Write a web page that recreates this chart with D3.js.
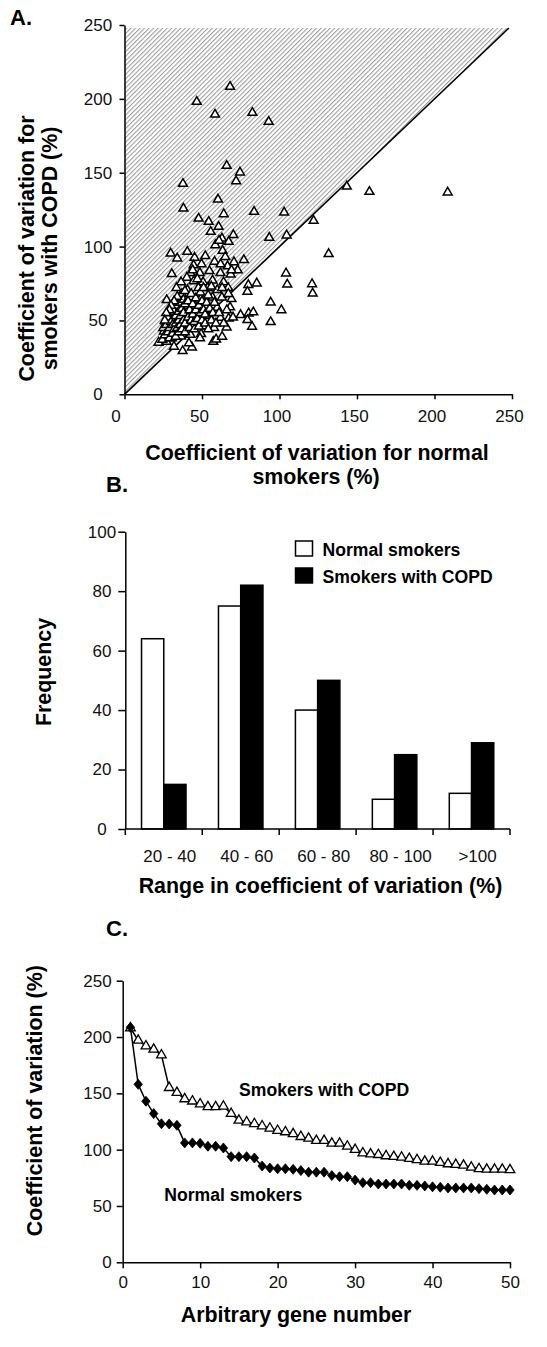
<!DOCTYPE html>
<html><head><meta charset="utf-8">
<script src="https://cdn.jsdelivr.net/npm/d3@7"></script>
<style>
html,body{margin:0;padding:0;background:#fff;}
svg{display:block;font-family:"Liberation Sans",Arial,Helvetica,sans-serif;}
.tick text{font-size:17px;fill:#111;}
.axis path,.axis line{stroke:#000;stroke-width:1.5px;}
.title{font-weight:bold;font-size:21.4px;fill:#000;}
.plabel{font-weight:bold;font-size:22px;fill:#000;}
.leg{font-weight:bold;font-size:17.6px;fill:#000;}
</style></head>
<body>
<script>
// ---------- Panel A: scatter (CV normal smokers vs CV smokers with COPD) ----------
const scatterNormalCV = [
68.1,46.6,58.4,82.5,93,65.9,74.5,72,37.7,143.4,158,208.5,60.3,38,83.6,103,64,122,47.8,54.3,
60.7,55.6,70.2,93.4,104.6,62.9,67.2,58.6,63.3,40.5,29.8,34,131.7,45.2,52.1,58.1,77,70.6,104.2,105,
121,121.4,85.3,79.9,79.3,94.3,101.2,74.9,80.1,83.1,79.3,82.3,94.3,30.5,22,37.5,43.5,57.3,59.1,49.4,
48.7,65.9,67.2,68.1,69,27.2,31.9,27.2,
66.5,49.7,44.6,42.6,48.6,54.8,61.9,68.5,73,
40.2,36.5,44.6,50.7,56.8,63.9,33.5,40.6,47.7,53.7,59.8,66.9,35.5,42.6,49.7,56.8,62.8,
31.5,38.5,45.6,52.7,59.8,26.4,32.5,39.5,46.6,54.8,61.9,25.4,31.5,37.5,43.6,50.7,57.8,42.6,
24.4,30.5,36.5,41.6,
25,26,27,28,28,29,29,30,30,31,31,32,32,33,33,33,34,34,35,35,
35,36,36,36,37,37,37,38,38,38,39,39,39,39,34,32,30,29,27,26,
41,41,42,42,43,43,44,44,45,45,46,46,47,47,48,48,49,49,50,50,
51,51,52,52,53,54,54,55,56,56,57,58,59,44,
63,61,64,66,70,63,67,62,65,69,61
];
const scatterCopdCV = [
208.2,198,189.4,190.6,184.5,154.7,150.2,144.3,142.5,140.7,137.1,136.7,131.9,125.8,123.6,123.1,122,117.5,119,116.8,
113.4,110,107.8,106,107.6,105.5,103.3,101,97.2,96.5,95.4,92,95,92.5,93.6,89.8,90.9,89.5,81.9,74.4,
74.6,68.3,75.1,74,69.5,62.2,57,53.7,54.8,55.5,50.3,45.8,48.9,81.4,35,29.3,31.8,35.6,37.2,40.8,
37.9,45.3,51.4,58.9,64.5,63.8,32.3,35.6,
86.7,88.1,87.4,82.1,82.1,83.5,82.1,81.2,84,
79,75.9,76.6,75.9,77.1,75.9,72,70.6,72,72,70.6,72,65.6,65.6,65.6,65.6,65.6,
58.7,59.9,59.9,59.9,58.7,49.5,51.8,53,54.1,53,51.8,42.6,43.8,46.1,47.2,46.1,44.9,40.3,
36.9,38,39.2,34.6,
45,40,47,42,52,38,45,49,55,41,47,44,56,39,48,53,45,60,42,50,
56,47,53,62,44,58,68,50,55,64,42,48,61,70,66,63,60,57,55,50,
52,63,45,57,50,68,54,61,44,49,57,65,51,78,46,60,55,69,50,63,
57,72,48,54,62,44,67,58,50,73,55,62,48,84,
39,55,48,57,52,72,68,88,93,84,104
];
const scatterTicks = [0, 50, 100, 150, 200, 250];

// ---------- Panel B: histogram ----------
const rangeLabels = ["20 - 40", "40 - 60", "60 - 80", "80 - 100", ">100"];
const normalFreq = [64, 75, 40, 10, 12];
const copdFreq = [15, 82, 50, 25, 29];
const freqTicks = [0, 20, 40, 60, 80, 100];
const seriesNames = ["Normal smokers", "Smokers with COPD"];

// ---------- Panel C: top 50 genes ----------
const copdTop50 = [208,197,192,189,184,155,150.6,145,143,140.5,138,138,138.5,132,126,124.5,123,121,119,117,
115.7,114,111.5,110,108,108,105.6,105.6,103,100,97,96,95.5,94.4,93.8,93.2,92,91,89.6,89.6,
88.5,87.3,86.7,86,84.3,83,82.5,82.5,82.5,82];
const normalTop50 = [208.6,158,143,132,123,122.8,121.6,106,106,105.6,103,103,101.5,93.8,93.8,93.8,92.6,85.5,83.7,83,
83,82.5,81.4,80,80,80,77,76,76,73,70.7,70.7,69.5,69.5,69.5,69.5,68.3,68.3,67.8,67,
66.6,66,66,66,66,65.4,64.8,64.2,64.2,64.2];
const geneTicks = [0, 10, 20, 30, 40, 50];
const cvTicks = [0, 50, 100, 150, 200, 250];

const W = 547, H = 1347;
const svg = d3.select("body").append("svg").attr("width", W).attr("height", H);
svg.append("rect").attr("width", W).attr("height", H).attr("fill", "#fff");

const defs = svg.append("defs");
const pat = defs.append("pattern").attr("id", "hatch").attr("patternUnits", "userSpaceOnUse")
  .attr("width", 3.2).attr("height", 3.2).attr("patternTransform", "rotate(45)");
pat.append("rect").attr("width", 3.2).attr("height", 3.2).attr("fill", "#fff");
pat.append("line").attr("x1", 0.5).attr("y1", 0).attr("x2", 0.5).attr("y2", 3.2)
  .attr("stroke", "#9c9c9c").attr("stroke-width", 1.1);

// ================= Panel A =================
const xA = d3.scaleLinear().domain([0, 250]).range([124.5, 512]);
const yA = d3.scaleLinear().domain([0, 250]).range([394.3, 25]);
const gA = svg.append("g");

const diagEnd = 248;
gA.append("path")
  .attr("d", `M${xA(0)},${yA(0)}L${xA(diagEnd)},${yA(diagEnd)}L${xA(0)},${yA(diagEnd)}Z`)
  .attr("fill", "url(#hatch)");
gA.append("line").attr("x1", xA(0)).attr("y1", yA(0)).attr("x2", xA(diagEnd)).attr("y2", yA(diagEnd))
  .attr("stroke", "#000").attr("stroke-width", 1.6);

const triA = d3.symbol().type(d3.symbolTriangle).size(34);
gA.selectAll("path.pt").data(scatterNormalCV).join("path").attr("class", "pt")
  .attr("d", triA)
  .attr("transform", (d, i) => `translate(${xA(d)},${yA(scatterCopdCV[i])})`)
  .attr("fill", "#fff").attr("stroke", "#000").attr("stroke-width", 1.5);

const axAx = gA.append("g").attr("class", "axis").attr("transform", `translate(0,${yA(0)})`)
  .call(d3.axisBottom(xA).tickValues(scatterTicks).tickSize(5).tickSizeOuter(0).tickPadding(10.5).tickFormat(d3.format("d")));
axAx.selectAll(".tick text").attr("dx", d => d === 0 ? -9 : -3);
const axAy = gA.append("g").attr("class", "axis").attr("transform", `translate(${xA(0)},0)`)
  .call(d3.axisLeft(yA).tickValues(scatterTicks).tickSize(5).tickSizeOuter(0).tickFormat(d3.format("d")));
axAy.selectAll(".tick text").attr("text-anchor", "middle").attr("x", -26.5);

gA.append("text").attr("class", "plabel").attr("x", 10).attr("y", 25).text("A.");
gA.append("text").attr("class", "title").attr("text-anchor", "middle").attr("x", 317).attr("y", 460)
  .text("Coefficient of variation for normal");
gA.append("text").attr("class", "title").attr("text-anchor", "middle").attr("x", 316).attr("y", 484)
  .text("smokers (%)");
gA.append("text").attr("class", "title").attr("text-anchor", "middle")
  .attr("transform", "translate(33.5,248.5) rotate(-90)").text("Coefficient of variation for");
gA.append("text").attr("class", "title").attr("text-anchor", "middle")
  .attr("transform", "translate(57,248.5) rotate(-90)").text("smokers with COPD (%)");

// ================= Panel B =================
const xB = d3.scaleBand().domain(rangeLabels).range([125.3, 510]).padding(0);
const xB1 = d3.scaleBand().domain(seriesNames).range([0, xB.bandwidth()]).paddingInner(0).paddingOuter(0.73);
const yB = d3.scaleLinear().domain([0, 100]).range([829, 531.7]);
const gB = svg.append("g");
const fills = ["#fff", "#000"];
const freqs = [normalFreq, copdFreq];

rangeLabels.forEach((lab, i) => {
  seriesNames.forEach((s, j) => {
    const v = freqs[j][i];
    gB.append("rect")
      .attr("x", xB(lab) + xB1(s)).attr("y", yB(v))
      .attr("width", xB1.bandwidth()).attr("height", yB(0) - yB(v))
      .attr("fill", fills[j]).attr("stroke", "#000").attr("stroke-width", 1.5);
  });
});

const axBy = gB.append("g").attr("class", "axis").attr("transform", `translate(${xB.range()[0]},0)`)
  .call(d3.axisLeft(yB).tickValues(freqTicks).tickSize(7).tickSizeOuter(0));
axBy.selectAll(".tick text").attr("text-anchor", "middle").attr("x", -23.3);

const gBx = gB.append("g").attr("class", "axis");
gBx.append("line").attr("x1", xB.range()[0]).attr("x2", xB.range()[1]).attr("y1", yB(0)).attr("y2", yB(0));
const bounds = rangeLabels.map(d => xB(d)).concat([xB.range()[1]]);
gBx.selectAll("line.tk").data(bounds).join("line").attr("class", "tk")
  .attr("x1", d => d).attr("x2", d => d).attr("y1", yB(0)).attr("y2", yB(0) + 6);
gBx.selectAll("text.tl").data(rangeLabels).join("text").attr("class", "tl")
  .attr("x", d => xB(d) + xB.bandwidth() / 2 + 6).attr("y", 862)
  .attr("text-anchor", "middle").attr("font-size", 17).attr("fill", "#111").text(d => d);

seriesNames.forEach((s, j) => {
  gB.append("rect").attr("x", 295.5).attr("y", j === 0 ? 541 : 568).attr("width", 17).attr("height", 15)
    .attr("fill", fills[j]).attr("stroke", "#000").attr("stroke-width", 1.5);
  gB.append("text").attr("class", "leg").attr("x", 322.5).attr("y", j === 0 ? 556 : 582.5).text(s);
});

gB.append("text").attr("class", "plabel").attr("x", 106).attr("y", 492).text("B.");
gB.append("text").attr("class", "title").attr("text-anchor", "middle").attr("x", 320.5).attr("y", 893.3)
  .text("Range in coefficient of variation (%)");
gB.append("text").attr("class", "title").attr("text-anchor", "middle")
  .attr("transform", "translate(51,672) rotate(-90)").text("Frequency");

// ================= Panel C =================
const xC = d3.scaleLinear().domain([0, 50]).range([122.7, 510]);
const yC = d3.scaleLinear().domain([0, 250]).range([1262.3, 980.7]);
const gC = svg.append("g");

const lineC = d3.line().x((d, i) => xC(i + 1)).y(d => yC(d));
gC.append("path").datum(copdTop50).attr("d", lineC).attr("fill", "none").attr("stroke", "#000").attr("stroke-width", 1.5);
gC.append("path").datum(normalTop50).attr("d", lineC).attr("fill", "none").attr("stroke", "#000").attr("stroke-width", 1.5);

const triC = d3.symbol().type(d3.symbolTriangle).size(40);
gC.selectAll("path.tri").data(copdTop50).join("path").attr("class", "tri")
  .attr("d", triC)
  .attr("transform", (d, i) => `translate(${xC(i + 1)},${yC(d)})`)
  .attr("fill", "#fff").attr("stroke", "#000").attr("stroke-width", 1.3);
const diamond = "M0,-5L4.2,0L0,5L-4.2,0Z";
gC.selectAll("path.dia").data(normalTop50).join("path").attr("class", "dia")
  .attr("d", diamond)
  .attr("transform", (d, i) => `translate(${xC(i + 1)},${yC(d)})`)
  .attr("fill", "#000").attr("stroke", "#000").attr("stroke-width", 0.8);

gC.append("g").attr("class", "axis").attr("transform", `translate(0,${yC(0)})`)
  .call(d3.axisBottom(xC).tickValues(geneTicks).tickSize(6).tickSizeOuter(0).tickPadding(8));
gC.append("g").attr("class", "axis").attr("transform", `translate(${xC(0)},0)`)
  .call(d3.axisLeft(yC).tickValues(cvTicks).tickSize(6).tickSizeOuter(0).tickPadding(5));

gC.append("text").attr("class", "leg").attr("x", 239).attr("y", 1095.7).text("Smokers with COPD");
gC.append("text").attr("class", "leg").attr("x", 164.3).attr("y", 1200.7).text("Normal smokers");
gC.append("text").attr("class", "plabel").attr("x", 106).attr("y", 936).text("C.");
gC.append("text").attr("class", "title").attr("text-anchor", "middle").attr("x", 296).attr("y", 1322.3)
  .text("Arbitrary gene number");
gC.append("text").attr("class", "title").attr("text-anchor", "middle")
  .attr("transform", "translate(42,1100.7) rotate(-90)").text("Coefficient of variation (%)");
</script>
</body></html>
